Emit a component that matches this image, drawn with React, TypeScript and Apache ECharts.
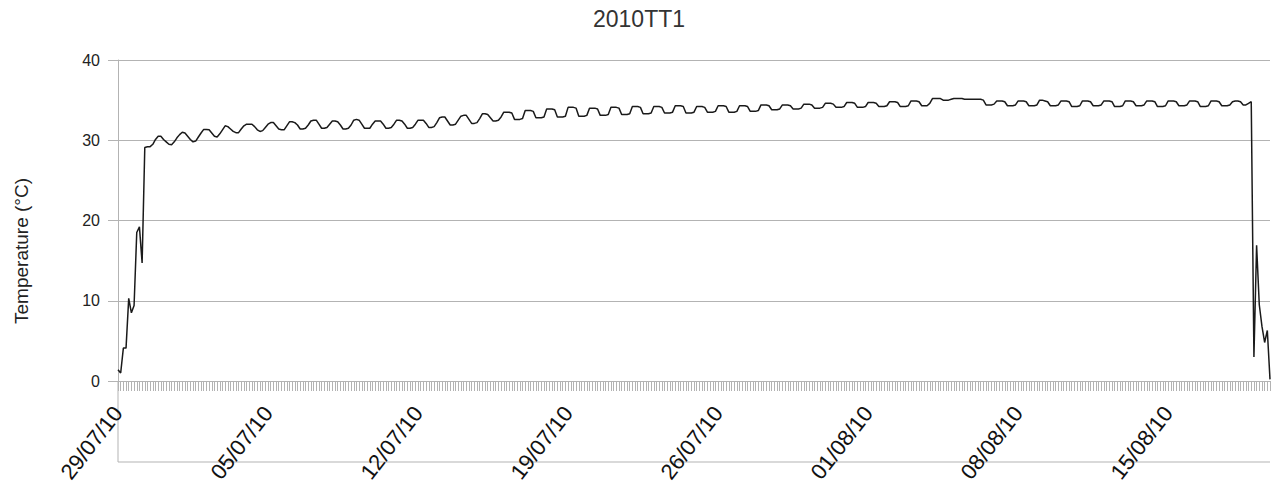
import React, { useEffect, useRef } from "react";
import * as echarts from "echarts";

// Temperature readings, 8 per day (every 3 hours)
const temperature: number[] = [
  1.4, 1.0, 4.1, 4.1, 10.3, 8.5, 9.4, 18.5,
  19.2, 14.7, 29.1, 29.2, 29.2, 29.5, 30.1, 30.5,
  30.5, 30.1, 29.8, 29.5, 29.45, 29.8, 30.3, 30.7,
  31.0, 30.9, 30.5, 30.1, 29.8, 29.9, 30.4, 30.9,
  31.35, 31.35, 31.3, 30.9, 30.5, 30.4, 30.8, 31.3,
  31.8, 31.7, 31.4, 31.1, 30.95, 30.95, 31.4, 31.8,
  32.0, 32.0, 32.0, 31.7, 31.3, 31.1, 31.2, 31.6,
  32.0, 32.2, 32.2, 31.8, 31.4, 31.3, 31.3, 31.8,
  32.3, 32.3, 32.2, 31.9, 31.4, 31.4, 31.5, 31.9,
  32.4, 32.5, 32.5, 32.0, 31.5, 31.5, 31.6, 32.0,
  32.4, 32.4, 32.3, 31.9, 31.4, 31.4, 31.5, 31.9,
  32.5, 32.6, 32.5, 32.0, 31.5, 31.5, 31.5, 32.0,
  32.4, 32.4, 32.4, 32.0, 31.5, 31.5, 31.6, 32.0,
  32.5, 32.5, 32.4, 32.0, 31.5, 31.5, 31.6, 32.0,
  32.5, 32.5, 32.5, 32.1, 31.6, 31.6, 31.7, 32.2,
  32.8, 32.9, 32.9, 32.4, 31.9, 31.9, 32.0, 32.5,
  33.0, 33.1, 33.1, 32.6, 32.1, 32.1, 32.2, 32.7,
  33.3, 33.3, 33.2, 32.8, 32.4, 32.4, 32.5, 32.9,
  33.5, 33.5, 33.5, 33.4, 32.6, 32.6, 32.6, 32.7,
  33.7, 33.7, 33.7, 33.6, 32.8, 32.8, 32.8, 32.9,
  33.9, 33.9, 33.9, 33.8, 32.9, 32.9, 32.9, 33.0,
  34.1, 34.1, 34.1, 34.0, 33.0, 33.0, 33.0, 33.1,
  34.0, 34.0, 34.0, 33.9, 33.1, 33.1, 33.1, 33.2,
  34.1, 34.1, 34.1, 34.0, 33.2, 33.2, 33.2, 33.3,
  34.2, 34.2, 34.2, 34.1, 33.3, 33.3, 33.3, 33.4,
  34.2, 34.2, 34.2, 34.1, 33.4, 33.4, 33.4, 33.5,
  34.3, 34.3, 34.3, 34.2, 33.4, 33.4, 33.4, 33.5,
  34.2, 34.2, 34.2, 34.1, 33.5, 33.5, 33.5, 33.6,
  34.3, 34.3, 34.3, 34.2, 33.5, 33.5, 33.5, 33.6,
  34.3, 34.3, 34.3, 34.2, 33.6, 33.6, 33.6, 33.7,
  34.4, 34.4, 34.4, 34.3, 33.8, 33.8, 33.8, 33.9,
  34.4, 34.4, 34.4, 34.3, 33.9, 33.9, 33.9, 34.0,
  34.5, 34.5, 34.5, 34.4, 34.0, 34.0, 34.0, 34.1,
  34.6, 34.6, 34.6, 34.5, 34.1, 34.1, 34.1, 34.2,
  34.7, 34.7, 34.7, 34.6, 34.1, 34.1, 34.1, 34.2,
  34.7, 34.7, 34.7, 34.6, 34.2, 34.2, 34.2, 34.3,
  34.8, 34.8, 34.8, 34.7, 34.2, 34.2, 34.2, 34.3,
  34.9, 34.9, 34.9, 34.8, 34.3, 34.3, 34.3, 34.6,
  35.2, 35.2, 35.2, 35.2, 35.0, 35.0, 35.0, 35.1,
  35.2, 35.2, 35.2, 35.2, 35.1, 35.1, 35.1, 35.1,
  35.1, 35.1, 35.1, 35.0, 34.4, 34.4, 34.4, 34.5,
  34.9, 34.9, 34.9, 34.8, 34.3, 34.3, 34.3, 34.4,
  34.9, 34.9, 34.9, 34.8, 34.3, 34.3, 34.3, 34.4,
  35.0, 35.0, 34.9, 34.8, 34.3, 34.3, 34.3, 34.4,
  34.9, 34.9, 34.9, 34.8, 34.2, 34.2, 34.2, 34.3,
  34.9, 34.9, 34.9, 34.8, 34.3, 34.3, 34.3, 34.4,
  34.9, 34.9, 34.9, 34.8, 34.2, 34.2, 34.2, 34.3,
  34.9, 34.9, 34.9, 34.8, 34.3, 34.3, 34.3, 34.4,
  34.9, 34.9, 34.9, 34.8, 34.2, 34.2, 34.2, 34.3,
  34.9, 34.9, 34.9, 34.8, 34.3, 34.3, 34.3, 34.4,
  34.9, 34.9, 34.9, 34.8, 34.2, 34.2, 34.2, 34.3,
  34.9, 34.9, 34.9, 34.8, 34.3, 34.3, 34.3, 34.4,
  34.8, 34.9, 34.9, 34.8, 34.4, 34.4, 34.6, 34.8,
  3.0, 16.9, 9.5, 6.8, 4.8, 6.3, 0.2,
];

// Category positions that carry a date label, and the labels themselves
const labelIndices: number[] = [0, 56, 112, 168, 224, 280, 336, 392];
const dateLabels: string[] = [
  "29/07/10",
  "05/07/10",
  "12/07/10",
  "19/07/10",
  "26/07/10",
  "01/08/10",
  "08/08/10",
  "15/08/10",
];

const yTicks: number[] = [0, 10, 20, 30, 40];

const TITLE = "2010TT1";
const Y_NAME = "Temperature (°C)";

export default function App() {
  const ref = useRef<HTMLDivElement>(null);

  useEffect(() => {
    if (!ref.current) return;
    const chart = echarts.init(ref.current, undefined, { renderer: "svg" });
    const categories = temperature.map((_, i) => String(i));
    const labelMap = new Map<number, string>();
    labelIndices.forEach((idx, k) => labelMap.set(idx, dateLabels[k]));

    const gridLeft = 118;
    const gridRight = 5;
    const gridTop = 60;
    const gridBottom = 116;
    const W = 1275;
    const H = 497;
    const axisColor = "#b3b3b3";
    const font = "'Liberation Sans', Arial, sans-serif";

    chart.setOption({
      animation: false,
      backgroundColor: "#ffffff",
      title: {
        text: TITLE,
        left: 593,
        top: 7,
        padding: 0,
        textStyle: {
          fontFamily: font,
          fontSize: 23,
          fontWeight: "normal",
          color: "#333333",
        },
      },
      grid: {
        left: gridLeft,
        right: gridRight,
        top: gridTop,
        bottom: gridBottom,
        containLabel: false,
      },
      xAxis: {
        type: "category",
        data: categories,
        boundaryGap: false,
        axisLine: { show: true, lineStyle: { color: axisColor, width: 1 } },
        axisTick: {
          show: true,
          interval: 0,
          length: 10,
          lineStyle: { color: axisColor, width: 1 },
        },
        axisLabel: {
          show: true,
          interval: (index: number) => labelMap.has(index),
          formatter: (_v: string, index: number) => labelMap.get(index) ?? "",
          rotate: 52,
          margin: 28,
          fontFamily: font,
          fontSize: 22,
          color: "#111111",
        },
        splitLine: { show: false },
      },
      yAxis: {
        type: "value",
        min: yTicks[0],
        max: yTicks[yTicks.length - 1],
        interval: yTicks[1] - yTicks[0],
        axisLine: { show: true, lineStyle: { color: axisColor, width: 1 } },
        axisTick: {
          show: true,
          length: 10,
          lineStyle: { color: axisColor, width: 1 },
        },
        axisLabel: {
          margin: 18,
          fontFamily: font,
          fontSize: 16,
          color: "#222222",
        },
        splitLine: { show: true, lineStyle: { color: axisColor, width: 1 } },
      },
      graphic: [
        {
          type: "line",
          shape: { x1: gridLeft, y1: H - gridBottom, x2: gridLeft, y2: 462 },
          style: { stroke: axisColor, lineWidth: 1 },
          silent: true,
        },
        {
          type: "line",
          shape: { x1: gridLeft, y1: 462, x2: W - gridRight, y2: 462 },
          style: { stroke: axisColor, lineWidth: 1 },
          silent: true,
        },
        {
          type: "text",
          x: 21,
          y: 251,
          rotation: Math.PI / 2,
          style: {
            text: Y_NAME,
            fontFamily: font,
            fontSize: 19,
            fill: "#222222",
            align: "center",
            verticalAlign: "middle",
          },
          silent: true,
        },
      ],
      series: [
        {
          type: "line",
          data: temperature,
          symbol: "none",
          lineStyle: { color: "#1a1a1a", width: 1.5 },
        },
      ],
    });

    return () => chart.dispose();
  }, []);

  return (
    <div
      ref={ref}
      style={{ position: "fixed", left: 0, top: 0, width: 1275, height: 497 }}
    />
  );
}
